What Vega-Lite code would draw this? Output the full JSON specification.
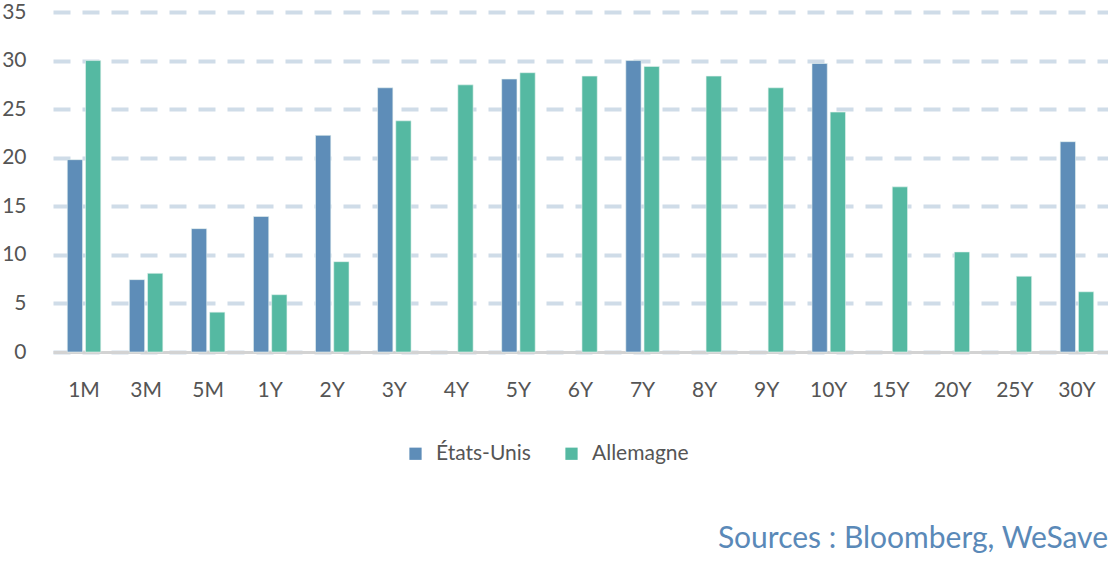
{
  "$schema": "https://vega.github.io/schema/vega-lite/v6.json",
  "background": "white",
  "autosize": "none",
  "width": 1055,
  "height": 340,
  "padding": {"left": 53, "top": 12, "right": 0, "bottom": 210},
  "title": {
    "text": "Sources : Bloomberg, WeSave",
    "orient": "bottom",
    "anchor": "end",
    "frame": "group",
    "offset": 60,
    "font": "Lato",
    "fontSize": 30,
    "fontWeight": "normal",
    "color": "#5a89b8"
  },
  "config": {
    "view": {"stroke": null},
    "font": "Lato",
    "axis": {"labelFont": "Lato", "labelColor": "#555555", "labelFontSize": 21}
  },
  "data": {
    "values": [
      {"maturity": "1M", "pays": "États-Unis", "valeur": 19.8},
      {"maturity": "1M", "pays": "Allemagne", "valeur": 30.0},
      {"maturity": "3M", "pays": "États-Unis", "valeur": 7.45},
      {"maturity": "3M", "pays": "Allemagne", "valeur": 8.1},
      {"maturity": "5M", "pays": "États-Unis", "valeur": 12.7},
      {"maturity": "5M", "pays": "Allemagne", "valeur": 4.1},
      {"maturity": "1Y", "pays": "États-Unis", "valeur": 13.95},
      {"maturity": "1Y", "pays": "Allemagne", "valeur": 5.9},
      {"maturity": "2Y", "pays": "États-Unis", "valeur": 22.3},
      {"maturity": "2Y", "pays": "Allemagne", "valeur": 9.3},
      {"maturity": "3Y", "pays": "États-Unis", "valeur": 27.2},
      {"maturity": "3Y", "pays": "Allemagne", "valeur": 23.8},
      {"maturity": "4Y", "pays": "Allemagne", "valeur": 27.5},
      {"maturity": "5Y", "pays": "États-Unis", "valeur": 28.1},
      {"maturity": "5Y", "pays": "Allemagne", "valeur": 28.75},
      {"maturity": "6Y", "pays": "Allemagne", "valeur": 28.4},
      {"maturity": "7Y", "pays": "États-Unis", "valeur": 30.0},
      {"maturity": "7Y", "pays": "Allemagne", "valeur": 29.4},
      {"maturity": "8Y", "pays": "Allemagne", "valeur": 28.4},
      {"maturity": "9Y", "pays": "Allemagne", "valeur": 27.2},
      {"maturity": "10Y", "pays": "États-Unis", "valeur": 29.7},
      {"maturity": "10Y", "pays": "Allemagne", "valeur": 24.7},
      {"maturity": "15Y", "pays": "Allemagne", "valeur": 17.0},
      {"maturity": "20Y", "pays": "Allemagne", "valeur": 10.3},
      {"maturity": "25Y", "pays": "Allemagne", "valeur": 7.8},
      {"maturity": "30Y", "pays": "États-Unis", "valeur": 21.65},
      {"maturity": "30Y", "pays": "Allemagne", "valeur": 6.2}
    ]
  },
  "mark": {"type": "bar", "stroke": "#e8f4f0", "strokeWidth": 0.6},
  "encoding": {
    "x": {
      "field": "maturity",
      "type": "nominal",
      "sort": ["1M", "3M", "5M", "1Y", "2Y", "3Y", "4Y", "5Y", "6Y", "7Y", "8Y", "9Y", "10Y", "15Y", "20Y", "25Y", "30Y"],
      "scale": {"paddingInner": 0.46, "paddingOuter": 0.23},
      "axis": {
        "title": null,
        "labelAngle": 0,
        "ticks": false,
        "domain": true,
        "domainColor": "#d3d3d3",
        "domainWidth": 3,
        "labelPadding": 27
      }
    },
    "xOffset": {
      "field": "pays",
      "type": "nominal",
      "scale": {"domain": ["États-Unis", "Allemagne"], "paddingInner": 0.16}
    },
    "y": {
      "field": "valeur",
      "type": "quantitative",
      "scale": {"domain": [0, 35], "nice": false},
      "axis": {
        "title": null,
        "values": [0, 5, 10, 15, 20, 25, 30, 35],
        "ticks": false,
        "domain": false,
        "labelPadding": 27,
        "grid": true,
        "gridColor": "#cfdce8",
        "gridWidth": 4,
        "gridDash": [17, 12]
      }
    },
    "color": {
      "field": "pays",
      "type": "nominal",
      "scale": {"domain": ["États-Unis", "Allemagne"], "range": ["#5e8db8", "#55b9a2"]},
      "legend": {
        "title": null,
        "orient": "none",
        "direction": "horizontal",
        "legendX": 352,
        "legendY": 431,
        "symbolType": "square",
        "symbolSize": 150,
        "symbolStrokeWidth": 0,
        "labelFontSize": 21,
        "labelColor": "#555555",
        "labelFont": "Lato",
        "columnPadding": 30,
        "labelOffset": 10
      }
    }
  }
}
